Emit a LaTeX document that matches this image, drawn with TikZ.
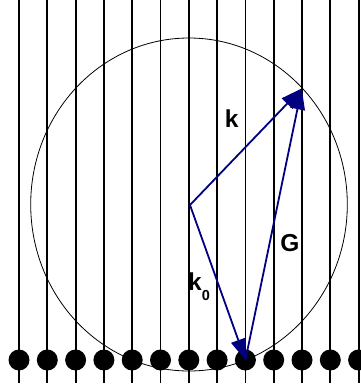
\documentclass[tikz,border=0pt]{standalone}
\usepackage{fontspec}
\setmainfont{Liberation Sans}
\usetikzlibrary{arrows.meta}
\definecolor{vecblue}{RGB}{0,0,128}
\begin{document}
\begin{tikzpicture}[x=1pt,y=-1pt,
  rowline/.style={line width=1.8pt,black},
  dot/.style={circle,fill=black,minimum size=21pt,inner sep=0pt},
  vec/.style={line width=1.8pt,vecblue,-{Triangle[length=21pt,width=15pt]}},
  lbl/.style={font=\fontsize{24.5}{24.5}\selectfont\bfseries,inner sep=0pt}]
\fill[white] (0,0) rectangle (361,391);
\useasboundingbox (0,0) rectangle (361,391);
\foreach \i in {0,...,12}{
  \coordinate (t\i) at ({19+28.3*\i},0);
  \coordinate (b\i) at ({19+28.3*\i},383);
  \draw[rowline] (t\i) -- (b\i);
}
\draw[line width=0.8pt] (189,204.5) ellipse [x radius=158.3pt, y radius=166.5pt];
\foreach \i in {0,...,12}{
  \node[dot] (d\i) at ({19+28.3*\i},360) {};
}
\coordinate (O) at (190,205);
\coordinate (K) at (301.7,88.5);
\draw[vec] (O) -- (K);
\draw[vec] (O) -- (d8.center);
\draw[vec] (d8.center) -- (K);
\node[lbl] (lk) at (231.7,119) {k};
\node[lbl] (lG) at (290,243.5) {G};
\node[lbl,anchor=base west] (lk0) at (188,290) {k\raisebox{-10pt}{\fontsize{14.5}{14.5}\selectfont 0}};
\end{tikzpicture}
\end{document}
